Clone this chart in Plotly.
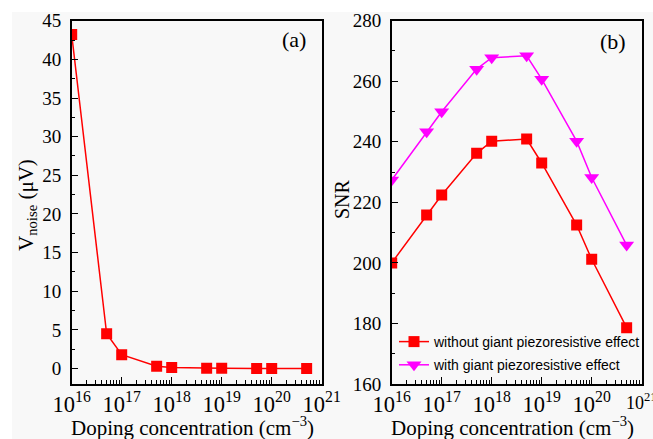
import plotly.graph_objects as go

# Doping concentrations (cm^-3)
doping = [1e16, 5e16, 1e17, 5e17, 1e18, 5e18, 1e19, 5e19, 1e20, 5e20]

# Panel (a): noise voltage (uV)
v_noise = [43.2, 4.5, 1.8, 0.3, 0.15, 0.05, 0.03, 0.02, 0.01, 0.01]

# Panel (b): signal-to-noise ratio
snr_without = [200.0, 215.8, 222.4, 236.2, 240.2, 240.9, 233.0, 212.5, 201.2, 178.6]
snr_with = [227.4, 243.3, 249.9, 264.0, 267.8, 268.4, 260.7, 240.2, 228.2, 205.9]

W, H = 653, 439
SERIF = "Liberation Serif, Times New Roman, serif"
SANS = "Liberation Sans, Arial, sans-serif"
BG = "#f8f8f8"

fig = go.Figure()

fig.add_trace(go.Scatter(
    x=doping, y=v_noise, mode="lines+markers",
    line=dict(color="#ff0000", width=1.5),
    marker=dict(symbol="square", size=11, color="#ff0000"),
    xaxis="x", yaxis="y", showlegend=False,
))
fig.add_trace(go.Scatter(
    x=doping, y=snr_without, mode="lines+markers",
    name="without giant piezoresistive effect", legendgroup="g1",
    line=dict(color="#ff0000", width=1.5),
    marker=dict(symbol="square", size=11, color="#ff0000"),
    xaxis="x2", yaxis="y2",
))
fig.add_trace(go.Scatter(
    x=doping, y=snr_with, mode="lines+markers",
    name="with giant piezoresistive effect", legendgroup="g2",
    line=dict(color="#ff00ff", width=1.5),
    marker=dict(symbol="triangle-down", size=13, color="#ff00ff"),
    xaxis="x2", yaxis="y2",
))

# pixel -> paper coordinates (margins are zero, so paper == full figure)
def px_x(v):
    return v / W

def px_y(v):
    return 1 - v / H

x_common = dict(
    type="log", range=[16, 21], dtick=1, exponentformat="power",
    showline=True, linecolor="black", linewidth=1.5, mirror=True,
    ticks="inside", ticklen=7, tickwidth=1.2, tickcolor="black",
    minor=dict(ticks="inside", dtick="D1", ticklen=4, tickwidth=1, tickcolor="black"),
    showgrid=False, zeroline=False, automargin=False,
    tickfont=dict(family=SERIF, size=18, color="black"),
)
y_common = dict(
    showline=True, linecolor="black", linewidth=1.5, mirror=True,
    ticks="inside", ticklen=7, tickwidth=1.2, tickcolor="black",
    showgrid=False, zeroline=False, automargin=False, ticklabelstandoff=5,
    tickfont=dict(family=SERIF, size=19, color="black"),
)

def label(text, x, y, size, angle=0, xref="paper"):
    return dict(text=text, xref=xref, yref="paper",
                x=px_x(x) if xref == "paper" else x, y=px_y(y),
                xanchor="center", yanchor="middle", showarrow=False, textangle=angle,
                font=dict(family=SERIF, size=size, color="black"))

fig.update_layout(
    width=W, height=H,
    margin=dict(l=0, r=0, t=0, b=0, autoexpand=False),
    paper_bgcolor="white", plot_bgcolor=BG,
    xaxis=dict(**x_common, domain=[px_x(71.7), px_x(321.7)], anchor="y"),
    yaxis=dict(**y_common, domain=[px_y(384), px_y(20.7)], anchor="x",
               range=[-2, 45], dtick=5,
               minor=dict(ticks="inside", dtick=2.5, ticklen=4, tickwidth=1, tickcolor="black")),
    xaxis2=dict(**x_common, domain=[px_x(391.7), px_x(641.7)], anchor="y2"),
    yaxis2=dict(**y_common, domain=[px_y(384), px_y(20.7)], anchor="x2",
                range=[160, 280], dtick=20,
                minor=dict(ticks="inside", dtick=10, ticklen=4, tickwidth=1, tickcolor="black")),
    legend=dict(
        x=px_x(394), y=px_y(326), xanchor="left", yanchor="top",
        bgcolor="rgba(0,0,0,0)", borderwidth=0,
        font=dict(family=SANS, size=14, color="black"),
        tracegroupgap=2, itemwidth=30,
    ),
    shapes=[
        # light gray canvas, leaving a thin white border at the top and left
        dict(type="rect", xref="paper", yref="paper", x0=px_x(12), x1=1.01, y0=-0.01, y1=px_y(12),
             fillcolor=BG, line=dict(width=0), layer="below"),
    ],
    annotations=[
        label("(a)", 294, 39, 22),
        label("(b)", 613, 41, 22),
        label("Doping concentration (cm<sup>−3</sup>)", 192, 426, 21),
        label("Doping concentration (cm<sup>−3</sup>)", 512, 426, 21),
        label("V<sub>noise</sub> (μV)", 27, 205, 21, angle=-90),
        label("SNR", 342, 199, 20, angle=-90),
        # last decade label of panel (b), running off the right edge
        label("10<sup>21</sup>", 21, 401, 18, xref="x2"),
    ],
)

fig.write_html("out.html")
